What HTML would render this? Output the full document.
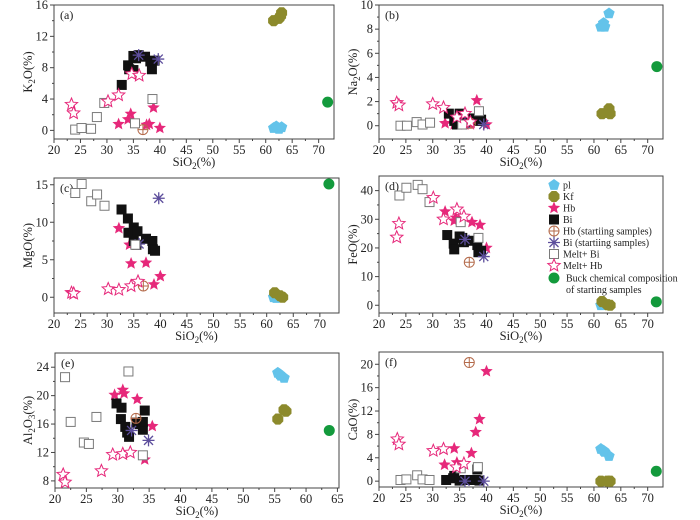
<!DOCTYPE html>
<html><head><meta charset="utf-8"><style>
body{margin:0;background:#fff}
svg{display:block;font-family:"Liberation Serif",serif}
</style></head><body>
<svg id="c" width="700" height="520" viewBox="0 0 700 520"></svg>
<script>
// ---- data: [x(SiO2), y(oxide)] pairs per series, per panel ----
const seriesNames=["pl","Kf","Hb","Bi","Hb (startiing samples)","Bi (startiing samples)","Melt+ Bi","Melt+ Hb","Buck chemical composition"];
const aPl=[[61.5,0.3],[62,0.5],[62.5,0.2],[63,0.4]];
const aKf=[[61.5,14],[62.5,14.3],[63,15],[62.8,14.6]];
const aHb=[[32.2,0.8],[34,1.4],[34.5,2.1],[37.5,0.7],[38,0.8],[38.8,2.9],[40,0.3]];
const aBi=[[32.8,5.8],[34,8.3],[34.2,7.8],[35,7.7],[35,9.5],[36,9.6],[37.2,9.4],[38.2,8.8],[38.5,7.8],[39,8.9],[35.5,9.2]];
const aHbS=[[36.8,0.1]];
const aBiS=[[36,9.6],[39.7,9.1]];
const aMB=[[24,0.1],[25.2,0.3],[27,0.2],[28.1,1.7],[29.5,3.5],[35.3,0.9],[38.6,4]];
const aMH=[[23.3,3.3],[23.7,2.2],[30.2,3.7],[32.2,4.5],[34.7,7.2],[36.1,7]];
const aBulk=[[71.7,3.6]];
const bPl=[[61.3,8.2],[61.8,8.5],[62,8.2],[62.8,9.3]];
const bKf=[[61.5,1],[62.5,1.1],[62.8,1.4],[63,1]];
const bHb=[[32.3,0.2],[34,0.1],[37,0.1],[38.2,2.1],[40,0.1],[36,0.1]];
const bBi=[[33,1],[34,0.4],[35,1],[35.5,0.2],[36,0.3],[37,0.6],[38,0.6],[38.5,0.4],[39,0.5],[34.5,0.1]];
const bHbS=[[37,0.2]];
const bBiS=[[36,0.2],[39.5,0.1]];
const bMB=[[24,0],[25.2,0],[27,0.3],[28.1,0.1],[29.5,0.25],[38.6,1.2],[35.5,0.1]];
const bMH=[[23.3,1.9],[23.7,1.7],[30,1.8],[32,1.5],[34.5,0.7],[36,1],[37,0.3]];
const bBulk=[[71.7,4.9]];
const cPl=[[61.3,0],[61.8,-0.1]];
const cKf=[[61.5,0.6],[62.5,0.2],[63,0]];
const cHb=[[32.2,9.2],[34.2,7],[34.5,4.5],[37.3,4.6],[38.8,1.7],[40,2.8]];
const cBi=[[32.7,11.7],[33.9,10.5],[34,8.6],[35,9.3],[35.7,8.8],[35,7.5],[35.5,7],[37.3,7.8],[38.5,7.5],[38.6,6.4],[39,6.2]];
const cHbS=[[36.8,1.5]];
const cBiS=[[36,7.1],[39.7,13.2]];
const cMB=[[24,13.9],[25.2,15.1],[27,12.8],[28.1,13.7],[29.5,12.2],[35.3,7]];
const cMH=[[23.3,0.6],[23.7,0.5],[30.2,1.1],[32.2,1],[34.5,1.5],[35.8,2.1]];
const cBulk=[[71.7,15.1]];
const dPl=[[61.3,0],[61.5,0.3]];
const dKf=[[61.5,1.3],[62.5,0.2],[63,0]];
const dHb=[[32.3,32.7],[34,29.5],[34.3,30.5],[37.3,29],[38.8,28],[40,20]];
const dBi=[[32.7,24.5],[33.9,21.5],[34,19.5],[35,24],[35.8,22],[35.5,23.5],[37.3,22.5],[38.3,21],[38.5,18.5],[39,19]];
const dHbS=[[36.8,15]];
const dBiS=[[36,23],[39.5,17]];
const dMB=[[23.8,38.3],[25.1,41],[27.2,42],[28.1,40.5],[29.4,36],[35.2,29],[38.5,23.5]];
const dMH=[[23.3,23.7],[23.7,28.5],[30.1,37.5],[32,30],[34.5,33.5],[35.8,31]];
const dBulk=[[71.6,1.2]];
const ePl=[[55.5,23.2],[56,22.8],[56.5,22.5],[55.8,23]];
const eKf=[[55.5,16.7],[56.5,18],[56.8,17.8]];
const eHb=[[29.5,20.1],[30.8,20.8],[31,20.3],[33.1,19.5],[34.3,11],[35.5,15.7]];
const eBi=[[29.8,18.9],[30.6,18.3],[30.5,16.7],[31.2,15.6],[31.8,14.2],[31.5,14.8],[33,16.2],[33.5,16],[34,15.2],[34.3,17.9],[34,16.3]];
const eHbS=[[32.9,16.8]];
const eBiS=[[32.2,15.1],[34.9,13.7]];
const eMB=[[21.6,22.6],[22.5,16.3],[24.6,13.4],[25.4,13.2],[26.6,17],[31.7,23.4],[34,11.6]];
const eMH=[[21.3,8.9],[21.6,7.8],[27.4,9.4],[29.2,11.7],[30.8,11.8],[32,12]];
const eBulk=[[63.7,15.1]];
const fPl=[[61.3,5.5],[62,5],[62.8,4.3],[61.8,5.2]];
const fKf=[[61.3,0],[62.5,0],[63,0]];
const fHb=[[32.2,2.8],[34,5.6],[34.5,3.2],[37.2,4.8],[38,8.4],[38.7,10.6],[40,18.8]];
const fBi=[[32.5,0.2],[33.8,0.5],[34,0.9],[35,0.1],[36,0.2],[37,0.2],[38,0.2],[38.3,2],[38.7,0.1]];
const fHbS=[[36.8,20.3]];
const fBiS=[[36,0],[39.5,0]];
const fMB=[[24,0.2],[25.1,0.3],[27.1,1],[28.1,0.3],[29.4,0.2],[35.2,2.2],[38.4,2.4]];
const fMH=[[23.4,7.2],[23.7,6.3],[30.1,5.2],[32,5.5],[34.4,2.4],[35.8,3]];
const fBulk=[[71.6,1.7]];
const xTicksMain=[20,25,30,35,40,45,50,55,60,65,70];
const xTicksE=[20,25,30,35,40,45,50,55,60,65];
const yTicksA=[0,4,8,12,16], yTicksB=[0,2,4,6,8,10], yTicksC=[0,5,10,15], yTicksD=[0,10,20,30,40], yTicksE=[8,12,16,20,24], yTicksF=[0,4,8,12,16,20];

const NS="http://www.w3.org/2000/svg";
const svg=document.getElementById('c');
function mk(tag,attrs,parent){const e=document.createElementNS(NS,tag);for(const k in attrs)e.setAttribute(k,attrs[k]);(parent||svg).appendChild(e);return e;}
const COL={pl:"#63c3ea",kf:"#8c8a2c",hb:"#e6287a",bi:"#111",hbs:"#b46a4a",bis:"#5d4e9c",mb:"#7a7a7a",mh:"#e6287a",bulk:"#139a3c"};
function star(cx,cy,r){let p=[];for(let i=0;i<10;i++){const a=-Math.PI/2+i*Math.PI/5,rr=i%2?r*0.45:r;p.push((cx+rr*Math.cos(a)).toFixed(1)+","+(cy+rr*Math.sin(a)).toFixed(1));}return p.join(" ");}
function poly(cx,cy,r,n,rot){let p=[];for(let i=0;i<n;i++){const a=rot+i*2*Math.PI/n;p.push((cx+r*Math.cos(a)).toFixed(1)+","+(cy+r*Math.sin(a)).toFixed(1));}return p.join(" ");}
function marker(type,cx,cy,g){
  let e;
  if(type==="pl"){e=mk('polygon',{points:poly(cx,cy,6,5,-Math.PI/2),fill:COL.pl},g);}
  else if(type==="kf"){e=mk('polygon',{points:poly(cx,cy,6,8,Math.PI/8),fill:COL.kf},g);}
  else if(type==="hb"){e=mk('polygon',{points:star(cx,cy,6.5),fill:COL.hb},g);}
  else if(type==="bi"){e=mk('rect',{x:cx-5,y:cy-5,width:10,height:10,fill:COL.bi},g);}
  else if(type==="hbs"){e=mk('g',{},g);mk('circle',{cx,cy,r:5,fill:"none",stroke:COL.hbs,"stroke-width":1},e);mk('path',{d:`M${cx-5} ${cy}H${cx+5}M${cx} ${cy-5}V${cy+5}`,stroke:COL.hbs,"stroke-width":1},e);}
  else if(type==="bis"){e=mk('path',{d:`M${cx-6} ${cy}H${cx+6}M${cx} ${cy-6}V${cy+6}M${cx-4.5} ${cy-4.5}L${cx+4.5} ${cy+4.5}M${cx-4.5} ${cy+4.5}L${cx+4.5} ${cy-4.5}`,stroke:COL.bis,"stroke-width":1.3,fill:"none"},g);}
  else if(type==="mb"){e=mk('rect',{x:cx-4.5,y:cy-4.5,width:9,height:9,fill:"#fff",stroke:COL.mb,"stroke-width":1},g);}
  else if(type==="mh"){e=mk('polygon',{points:star(cx,cy,6.5),fill:"#fff",stroke:COL.mh,"stroke-width":1},g);}
  else {e=mk('circle',{cx,cy,r:5.5,fill:COL.bulk},g);}
  return e;
}
const types=["pl","kf","hb","bi","hbs","bis","mb","mh","bulk"];
function panel(o){
  const g=mk('g',{});
  
  
  const X=v=>o.L+(v-o.x0)/(o.x1-o.x0)*(o.R-o.L);
  const Y=v=>o.B-(v-o.y0)/(o.y1-o.y0)*(o.B-o.T);
  const fr=mk('rect',{x:o.L,y:o.T,width:o.R-o.L,height:o.B-o.T,fill:"none",stroke:"#444","stroke-width":1},g);
  
  
  o.xt.forEach((t,i)=>{const x=X(t);mk('line',{x1:x,x2:x,y1:o.B,y2:o.B+4,stroke:"#444"},g);
    if(i<o.xt.length-1){const xm=X(t+2.5);mk('line',{x1:xm,x2:xm,y1:o.B,y2:o.B+2,stroke:"#444"},g);}
    const tx=mk('text',{x:x,y:o.B+15,"text-anchor":"middle","font-size":12.5,fill:"#222"},g);tx.textContent=t;
    
    });
  const ys=o.yt[1]-o.yt[0];
  o.yt.forEach((t,i)=>{const y=Y(t);mk('line',{x1:o.L-4,x2:o.L,y1:y,y2:y,stroke:"#444"},g);
    if(i<o.yt.length-1){const ym=Y(t+ys/2);mk('line',{x1:o.L-2,x2:o.L,y1:ym,y2:ym,stroke:"#444"},g);}
    const tx=mk('text',{x:o.L-6,y:y+4,"text-anchor":"end","font-size":12.5,fill:"#222"},g);tx.textContent=t;
    
    });
  const lab=mk('text',{x:o.L+6,y:o.T+14,"font-size":12,fill:"#222"},g);lab.textContent="("+o.id+")";
  
  
  const xt=mk('text',{x:(o.L+o.R)/2,y:o.B+27,"text-anchor":"middle","font-size":12.5,fill:"#222"},g);
  xt.innerHTML='SiO<tspan dy="3" font-size="9">2</tspan><tspan dy="-3">(%)</tspan>';
  
  
  const yc=(o.T+o.B)/2;
  const yt=mk('text',{x:o.yx,y:yc,"text-anchor":"middle","font-size":12.5,fill:"#222",transform:`rotate(-90 ${o.yx} ${yc})`},g);
  yt.innerHTML=o.ytitle;
  
  
  o.data.forEach((arr,si)=>{arr.forEach(p=>{const m=marker(types[si],X(p[0]),Y(p[1]),g);
    
    });});
}
const sub=(a,b,c)=>`${a}<tspan dy="3" font-size="9">${b}</tspan><tspan dy="-3">${c}</tspan>`;
panel({id:"a",L:54,R:334,T:5,B:139,x0:20,x1:72.9,y0:-1.1,y1:16,xt:xTicksMain,yt:yTicksA,yx:32,ytitle:sub("K","2","O(%)"),data:[aPl,aKf,aHb,aBi,aHbS,aBiS,aMB,aMH,aBulk]});
panel({id:"b",L:379,R:663,T:5,B:139,x0:20,x1:72.85,y0:-1.1,y1:10,xt:xTicksMain,yt:yTicksB,yx:357,ytitle:sub("Na","2","O(%)"),data:[bPl,bKf,bHb,bBi,bHbS,bBiS,bMB,bMH,bBulk]});
panel({id:"c",L:54,R:339,T:178,B:313,x0:20,x1:73.6,y0:-2.1,y1:15.9,xt:xTicksMain,yt:yTicksC,yx:32,ytitle:"MgO(%)",data:[cPl,cKf,cHb,cBi,cHbS,cBiS,cMB,cMH,cBulk]});
panel({id:"d",L:379,R:663,T:176,B:313,x0:20,x1:72.85,y0:-2.7,y1:45.1,xt:xTicksMain,yt:yTicksD,yx:357,ytitle:"FeO(%)",data:[dPl,dKf,dHb,dBi,dHbS,dBiS,dMB,dMH,dBulk]});
panel({id:"e",L:55,R:339,T:353,B:488,x0:20,x1:65.25,y0:7,y1:26,xt:xTicksE,yt:yTicksE,yx:32,ytitle:sub("Al","2","O")+'<tspan dy="3" font-size="9">3</tspan><tspan dy="-3">(%)</tspan>',data:[ePl,eKf,eHb,eBi,eHbS,eBiS,eMB,eMH,eBulk]});
panel({id:"f",L:379,R:663,T:352,B:487,x0:20,x1:72.85,y0:-1,y1:22.1,xt:xTicksMain,yt:yTicksF,yx:357,ytitle:"CaO(%)",data:[fPl,fKf,fHb,fBi,fHbS,fBiS,fMB,fMH,fBulk]});
// legend
const lg=mk('g',{});


const legY=[185,196.5,208,219.5,231,242.5,254,265.5,278];
seriesNames.forEach((n,i)=>{const ent=mk('g',{},lg);
  
  
  marker(types[i],554,legY[i],ent);
  const t=mk('text',{x:i===8?566:563,y:legY[i]+3.5,"font-size":10,fill:"#222"},ent);t.textContent=n;});
const t2=mk('text',{x:566,y:293,"font-size":10,fill:"#222"},lg);t2.textContent="of starting samples";
</script>
</body></html>
